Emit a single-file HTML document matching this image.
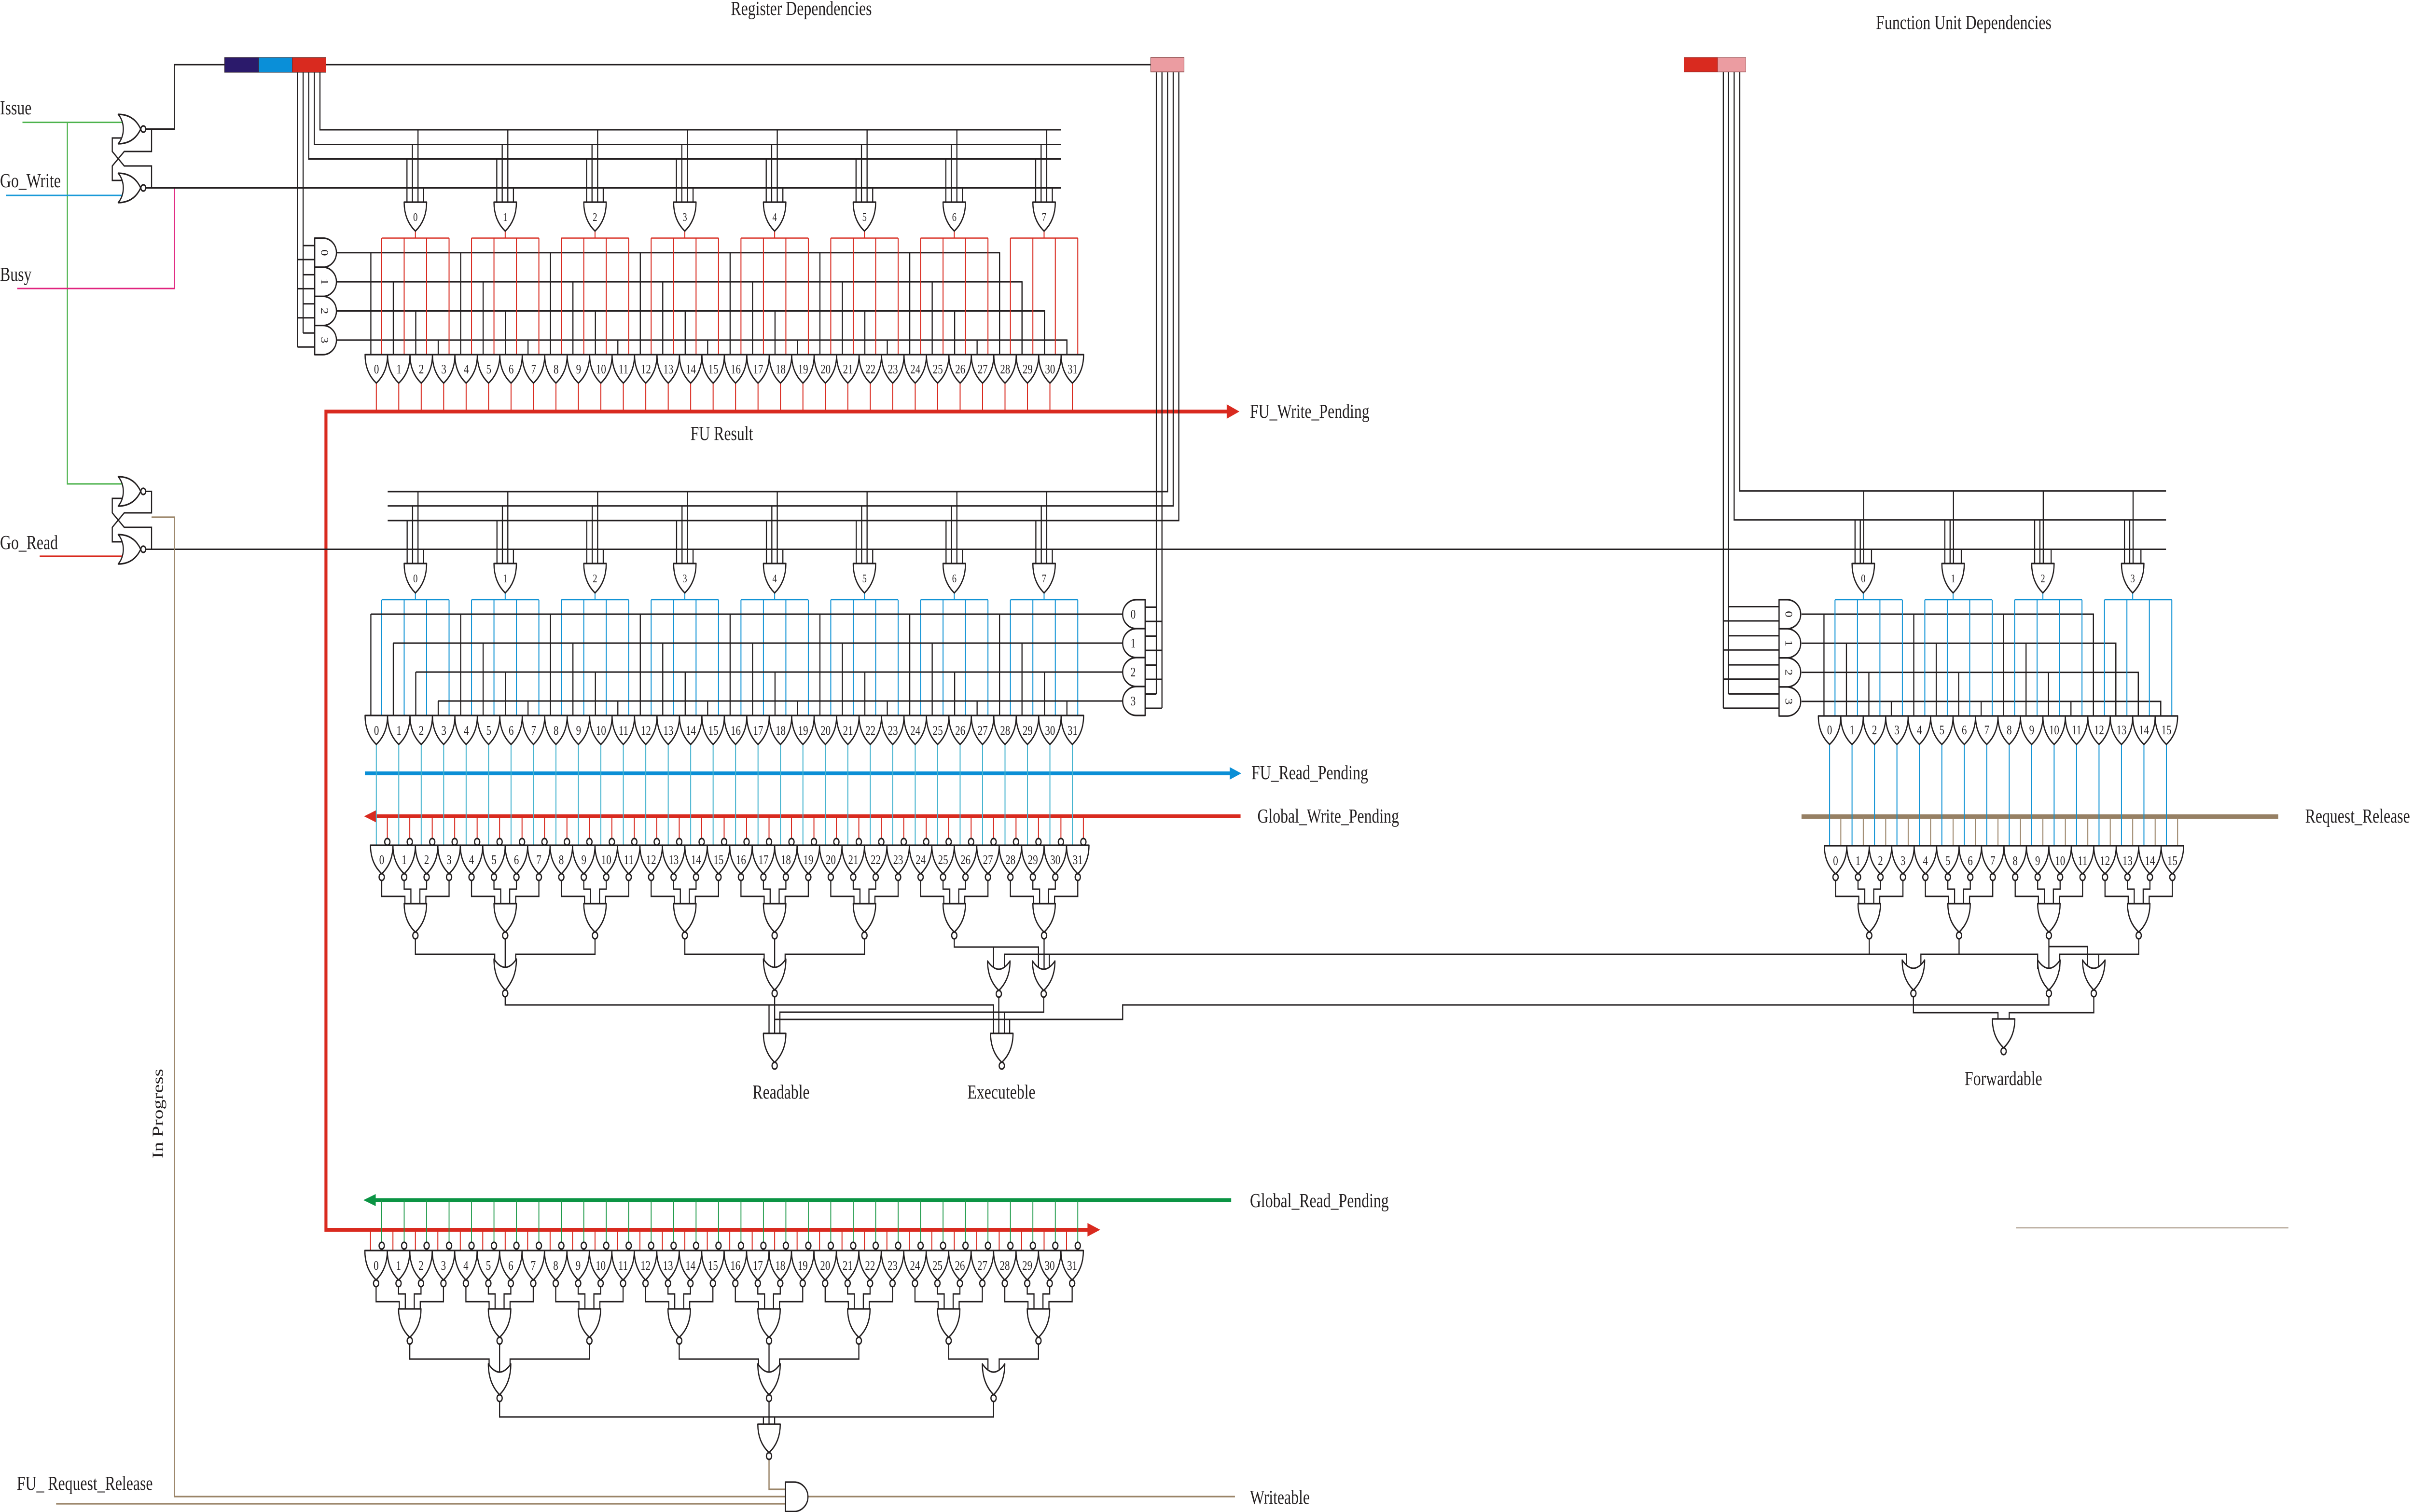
<!DOCTYPE html>
<html><head><meta charset="utf-8">
<style>
html,body{margin:0;padding:0;background:#fff;width:100%;height:100%;overflow:hidden;}
svg{display:block;position:fixed;left:0;top:0;width:100vw;height:100vh}
.k{stroke:#231f20;stroke-width:3;fill:none}
.r{stroke:#d92a1f;stroke-width:2.6;fill:none}
.b{stroke:#1193d5;stroke-width:2.6;fill:none}
.c{stroke:#45b3cf;stroke-width:2.6;fill:none}
.gn{stroke:#1f9a4a;stroke-width:2.4;fill:none}
.gi{stroke:#4db34d;stroke-width:3;fill:none}
.bl{stroke:#1a9ad8;stroke-width:3;fill:none}
.mg{stroke:#e0247f;stroke-width:3;fill:none}
.rd{stroke:#d92a1f;stroke-width:3.2;fill:none}
.br{stroke:#9a8468;stroke-width:3.2;fill:none}
.br2{stroke:#9a8468;stroke-width:2.6;fill:none}
.tl{stroke:#b4a697;stroke-width:2.5;fill:none}
.R{stroke:#d92a1f;stroke-width:8;fill:none}
.B{stroke:#0b8fd6;stroke-width:8;fill:none}
.G{stroke:#0b9444;stroke-width:8;fill:none}
.BR{stroke:#968064;stroke-width:9;fill:none}
.gt{fill:#fff;stroke:#231f20;stroke-width:3.2;stroke-linejoin:round}
.t{font-family:"Liberation Serif","Times New Roman",serif;fill:#231f20}
.L{font-size:41px}
.n{font-size:27px;text-anchor:middle}
.m{font-size:24px;text-anchor:middle}
</style></head><body>
<svg xmlns="http://www.w3.org/2000/svg" viewBox="0 0 6448 3134" preserveAspectRatio="none">
<rect x="0" y="0" width="6448" height="3134" fill="#fff"/>
<g id="geo"></g>
<g>
<rect x="600" y="119" width="91" height="31" fill="#2b1a6b" stroke="#3a2a2a" stroke-width="1"/>
<rect x="691" y="119" width="90" height="31" fill="#0a8fd8" stroke="#3a2a2a" stroke-width="1"/>
<rect x="781" y="119" width="90" height="31" fill="#d92a1f" stroke="#3a2a2a" stroke-width="1"/>
<rect x="3075" y="119" width="89" height="30" fill="#eb9ca1" stroke="#8a4a4a" stroke-width="1.5"/>
<rect x="4500" y="119" width="90" height="30" fill="#d92a1f" stroke="#8a2a2a" stroke-width="1"/>
<rect x="4590" y="119" width="75" height="30" fill="#eb9ca1" stroke="#8a4a4a" stroke-width="1"/>
</g>
<g class="t">
<text class="L" x="1953" y="31">Register Dependencies</text>
<text class="L" x="5013" y="60">Function Unit Dependencies</text>
<text class="L" x="0" y="237">Issue</text>
<text class="L" x="0" y="388">Go_Write</text>
<text class="L" x="0" y="582">Busy</text>
<text class="L" x="0" y="1138">Go_Read</text>
<text class="L" transform="translate(435,2401) rotate(-90)">In Progress</text>
<text class="L" x="45" y="3088">FU_ Request_Release</text>
<text class="L" x="1845" y="912">FU Result</text>
<text class="L" x="3340" y="866">FU_Write_Pending</text>
<text class="L" x="3344" y="1615">FU_Read_Pending</text>
<text class="L" x="3360" y="1705">Global_Write_Pending</text>
<text class="L" x="3340" y="2502">Global_Read_Pending</text>
<text class="L" x="3340" y="3117">Writeable</text>
<text class="L" x="6160" y="1705">Request_Release</text>
<text class="L" x="2011" y="2277">Readable</text>
<text class="L" x="2585" y="2277">Executeble</text>
<text class="L" x="5250" y="2249">Forwardable</text>

<text class="m" y="458"><tspan x="1110">0</tspan><tspan x="1350">1</tspan><tspan x="1590">2</tspan><tspan x="1830">3</tspan><tspan x="2070">4</tspan><tspan x="2310">5</tspan><tspan x="2550">6</tspan><tspan x="2790">7</tspan></text>
<text class="m" y="1207"><tspan x="1110">0</tspan><tspan x="1350">1</tspan><tspan x="1590">2</tspan><tspan x="1830">3</tspan><tspan x="2070">4</tspan><tspan x="2310">5</tspan><tspan x="2550">6</tspan><tspan x="2790">7</tspan></text>
<text class="m" y="1207"><tspan x="4979">0</tspan><tspan x="5219">1</tspan><tspan x="5459">2</tspan><tspan x="5699">3</tspan></text>

<text class="n" y="774"><tspan x="1006">0</tspan><tspan x="1066">1</tspan><tspan x="1126">2</tspan><tspan x="1186">3</tspan><tspan x="1246">4</tspan><tspan x="1306">5</tspan><tspan x="1366">6</tspan><tspan x="1426">7</tspan><tspan x="1486">8</tspan><tspan x="1546">9</tspan><tspan x="1606">10</tspan><tspan x="1666">11</tspan><tspan x="1726">12</tspan><tspan x="1786">13</tspan><tspan x="1846">14</tspan><tspan x="1906">15</tspan><tspan x="1966">16</tspan><tspan x="2026">17</tspan><tspan x="2086">18</tspan><tspan x="2146">19</tspan><tspan x="2206">20</tspan><tspan x="2266">21</tspan><tspan x="2326">22</tspan><tspan x="2386">23</tspan><tspan x="2446">24</tspan><tspan x="2506">25</tspan><tspan x="2566">26</tspan><tspan x="2626">27</tspan><tspan x="2686">28</tspan><tspan x="2746">29</tspan><tspan x="2806">30</tspan><tspan x="2866">31</tspan></text>

<text class="n" y="1523"><tspan x="1006">0</tspan><tspan x="1066">1</tspan><tspan x="1126">2</tspan><tspan x="1186">3</tspan><tspan x="1246">4</tspan><tspan x="1306">5</tspan><tspan x="1366">6</tspan><tspan x="1426">7</tspan><tspan x="1486">8</tspan><tspan x="1546">9</tspan><tspan x="1606">10</tspan><tspan x="1666">11</tspan><tspan x="1726">12</tspan><tspan x="1786">13</tspan><tspan x="1846">14</tspan><tspan x="1906">15</tspan><tspan x="1966">16</tspan><tspan x="2026">17</tspan><tspan x="2086">18</tspan><tspan x="2146">19</tspan><tspan x="2206">20</tspan><tspan x="2266">21</tspan><tspan x="2326">22</tspan><tspan x="2386">23</tspan><tspan x="2446">24</tspan><tspan x="2506">25</tspan><tspan x="2566">26</tspan><tspan x="2626">27</tspan><tspan x="2686">28</tspan><tspan x="2746">29</tspan><tspan x="2806">30</tspan><tspan x="2866">31</tspan></text>

<text class="n" y="1791"><tspan x="1020">0</tspan><tspan x="1080">1</tspan><tspan x="1140">2</tspan><tspan x="1200">3</tspan><tspan x="1260">4</tspan><tspan x="1320">5</tspan><tspan x="1380">6</tspan><tspan x="1440">7</tspan><tspan x="1500">8</tspan><tspan x="1560">9</tspan><tspan x="1620">10</tspan><tspan x="1680">11</tspan><tspan x="1740">12</tspan><tspan x="1800">13</tspan><tspan x="1860">14</tspan><tspan x="1920">15</tspan><tspan x="1980">16</tspan><tspan x="2040">17</tspan><tspan x="2100">18</tspan><tspan x="2160">19</tspan><tspan x="2220">20</tspan><tspan x="2280">21</tspan><tspan x="2340">22</tspan><tspan x="2400">23</tspan><tspan x="2460">24</tspan><tspan x="2520">25</tspan><tspan x="2580">26</tspan><tspan x="2640">27</tspan><tspan x="2700">28</tspan><tspan x="2760">29</tspan><tspan x="2820">30</tspan><tspan x="2880">31</tspan></text>

<text class="n" y="2632"><tspan x="1005">0</tspan><tspan x="1065">1</tspan><tspan x="1125">2</tspan><tspan x="1185">3</tspan><tspan x="1245">4</tspan><tspan x="1305">5</tspan><tspan x="1365">6</tspan><tspan x="1425">7</tspan><tspan x="1485">8</tspan><tspan x="1545">9</tspan><tspan x="1605">10</tspan><tspan x="1665">11</tspan><tspan x="1725">12</tspan><tspan x="1785">13</tspan><tspan x="1845">14</tspan><tspan x="1905">15</tspan><tspan x="1965">16</tspan><tspan x="2025">17</tspan><tspan x="2085">18</tspan><tspan x="2145">19</tspan><tspan x="2205">20</tspan><tspan x="2265">21</tspan><tspan x="2325">22</tspan><tspan x="2385">23</tspan><tspan x="2445">24</tspan><tspan x="2505">25</tspan><tspan x="2565">26</tspan><tspan x="2625">27</tspan><tspan x="2685">28</tspan><tspan x="2745">29</tspan><tspan x="2805">30</tspan><tspan x="2865">31</tspan></text>

<text class="n" y="1522"><tspan x="4889">0</tspan><tspan x="4949">1</tspan><tspan x="5009">2</tspan><tspan x="5069">3</tspan><tspan x="5129">4</tspan><tspan x="5189">5</tspan><tspan x="5249">6</tspan><tspan x="5309">7</tspan><tspan x="5369">8</tspan><tspan x="5429">9</tspan><tspan x="5489">10</tspan><tspan x="5549">11</tspan><tspan x="5609">12</tspan><tspan x="5669">13</tspan><tspan x="5729">14</tspan><tspan x="5789">15</tspan></text>

<text class="n" y="1793"><tspan x="4905">0</tspan><tspan x="4965">1</tspan><tspan x="5025">2</tspan><tspan x="5085">3</tspan><tspan x="5145">4</tspan><tspan x="5205">5</tspan><tspan x="5265">6</tspan><tspan x="5325">7</tspan><tspan x="5385">8</tspan><tspan x="5445">9</tspan><tspan x="5505">10</tspan><tspan x="5565">11</tspan><tspan x="5625">12</tspan><tspan x="5685">13</tspan><tspan x="5745">14</tspan><tspan x="5805">15</tspan></text>

<text class="n" transform="translate(866,523.7) rotate(90)" y="8">0</text>
<text class="n" transform="translate(866,584.1) rotate(90)" y="8">1</text>
<text class="n" transform="translate(866,644.5) rotate(90)" y="8">2</text>
<text class="n" transform="translate(866,704.9) rotate(90)" y="8">3</text>

<text class="n" transform="translate(4779,1273) rotate(90)" y="8">0</text>
<text class="n" transform="translate(4779,1333.3) rotate(90)" y="8">1</text>
<text class="n" transform="translate(4779,1393.6) rotate(90)" y="8">2</text>
<text class="n" transform="translate(4779,1453.9) rotate(90)" y="8">3</text>

<text class="n" x="3028" y="1282">0</text>
<text class="n" x="3028" y="1342">1</text>
<text class="n" x="3028" y="1402">2</text>
<text class="n" x="3028" y="1462">3</text>
</g>
</svg>
<script>
(function(){
var z='',o='',q='';
function f(v){return Math.round(v*10)/10;}
function pts(a){var s='';for(var i=0;i<a.length;i+=2)s+=f(a[i])+','+f(a[i+1])+' ';return s;}
function pl(c,a){o+='<polyline class="'+c+'" points="'+pts(a)+'"/>';}
function PL(c,a){z+='<polyline class="'+c+'" points="'+pts(a)+'"/>';}
function tri(a,col){z+='<polygon fill="'+col+'" points="'+pts(a)+'"/>';}
function gd(cx,y0,h,w){w=w||60;var hw=w/2;q+='<path class="gt" d="M'+f(cx-hw)+','+f(y0)+'H'+f(cx+hw)+'C'+f(cx+hw)+','+f(y0+h*0.55)+' '+f(cx+hw*0.4)+','+f(y0+h*0.85)+' '+f(cx)+','+f(y0+h)+'C'+f(cx-hw*0.4)+','+f(y0+h*0.85)+' '+f(cx-hw)+','+f(y0+h*0.55)+' '+f(cx-hw)+','+f(y0)+'Z"/>';}
function od(cx,yt,tip){var hw=30,h=tip-yt;q+='<path class="gt" d="M'+f(cx-hw)+','+f(yt)+'Q'+f(cx)+','+f(yt+34)+' '+f(cx+hw)+','+f(yt)+'C'+f(cx+hw)+','+f(yt+h*0.55)+' '+f(cx+hw*0.4)+','+f(yt+h*0.85)+' '+f(cx)+','+f(tip)+'C'+f(cx-hw*0.4)+','+f(yt+h*0.85)+' '+f(cx-hw)+','+f(yt+h*0.55)+' '+f(cx-hw)+','+f(yt)+'Z"/>';}
function bub(cx,cy,r){q+='<circle class="gt" cx="'+f(cx)+'" cy="'+f(cy)+'" r="'+(r||7)+'"/>';}
function dR(x0,y0,h,w){var rx=w*0.62;q+='<path class="gt" d="M'+f(x0)+','+f(y0)+'H'+f(x0+w-rx)+'A'+f(rx)+','+f(h/2)+' 0 0 1 '+f(x0+w-rx)+','+f(y0+h)+'H'+f(x0)+'Z"/>';}
function dL(x0,y0,h,w){var rx=w*0.62;q+='<path class="gt" d="M'+f(x0)+','+f(y0)+'H'+f(x0-w+rx)+'A'+f(rx)+','+f(h/2)+' 0 0 0 '+f(x0-w+rx)+','+f(y0+h)+'H'+f(x0)+'Z"/>';}
function norR(x0,yc,h){var y0=yc-h/2,y1=yc+h/2,tx=x0+60;q+='<path class="gt" d="M'+x0+','+f(y0)+'C'+(x0+36)+','+f(y0)+' '+(tx-8)+','+f(yc-h*0.22)+' '+tx+','+f(yc)+'C'+(tx-8)+','+f(yc+h*0.22)+' '+(x0+36)+','+f(y1)+' '+x0+','+f(y1)+'C'+(x0+18)+','+f(yc+h*0.22)+' '+(x0+18)+','+f(yc-h*0.22)+' '+x0+','+f(y0)+'Z"/>';bub(tx+7,yc,6.5);}
function grp(cx,yb,yo,yi,yt){pl('k',[cx-90,yb,cx-90,yo,cx-28,yo,cx-28,yt]);pl('k',[cx-30,yb,cx-30,yi,cx-12,yi,cx-12,yt]);pl('k',[cx+30,yb,cx+30,yi,cx+12,yi,cx+12,yt]);pl('k',[cx+90,yb,cx+90,yo,cx+28,yo,cx+28,yt]);}
var n,k,g,j,cx,x,y0;

/* ---------- left latches ---------- */
pl('gi',[60,253.6,330,253.6]);
pl('gi',[180,253.6,180,1003,330,1003]);
pl('bl',[16,405,330,405]);
pl('mg',[466,389.5,466,598,46,598]);
pl('k',[390,267.5,405,267.5,466,267.5,466,134,600,134]);
pl('k',[405,267.5,405,314,332,314,300,344,300,374,330,374]);
pl('k',[390,389.5,2835,389.5]);
pl('k',[405,389.5,405,344,332,344,300,314,300,286,330,286]);
norR(316,267.5,61);norR(316,389.5,61);
pl('rd',[106,1153,330,1153]);
pl('k',[390,1018.5,405,1018.5,405,1063,332,1063,300,1093,300,1123,330,1123]);
pl('k',[390,1138.5,5788,1138.5]);
pl('k',[405,1138.5,405,1093,332,1093,300,1063,300,1033,330,1033]);
norR(316,1018.5,61);norR(316,1138.5,61);
pl('br',[405,1072,466,1072,466,3102,2100,3102]);
pl('br',[150,3117,2100,3117]);

/* ---------- top register section ---------- */
pl('k',[855,150,855,269,2835,269]);
pl('k',[840,150,840,299.5,2835,299.5]);
pl('k',[825,150,825,329.5,2835,329.5]);
pl('k',[810,150,810,690]);
pl('k',[795,150,795,719]);
pl('k',[871,134,3075,134]);
for(g=0;g<4;g++){y0=493.5+60.4*g;pl('k',[810,y0+15.5,842,y0+15.5]);pl('k',[795,y0+44.5,842,y0+44.5]);x=991+60*(28+g);pl('k',[899,y0+30.2,x,y0+30.2,x,736]);dR(841,y0,60.4,58);}
for(n=0;n<32;n++){x=991+60*n;pl('k',[x,523.7+60.4*(n%4),x,736]);}
for(k=0;k<8;k++){cx=1110+240*k;
 pl('k',[cx-22.5,329.5,cx-22.5,420]);pl('k',[cx-8,299.5,cx-8,420]);pl('k',[cx+7,269,cx+7,420]);pl('k',[cx+22,389.5,cx+22,420]);
 pl('r',[cx,479,cx,493.5]);pl('r',[1020+240*k,493.5,1200+240*k,493.5]);
 for(j=0;j<4;j++){x=1020+240*k+60*j;pl('r',[x,493.5,x,736]);}
 gd(cx,419,60);}
for(n=0;n<32;n++){cx=1005.6+60*n;gd(cx,735,59);pl('r',[cx,794,cx,853]);}
PL('R',[3280,853,871,853,871,2549,2910,2549]);
tri([3312,853,3278,838,3278,868],'#d92a1f');
tri([2940,2549,2906,2535,2906,2563],'#d92a1f');

/* ---------- middle register section ---------- */
pl('k',[3120,150,3120,1019,1036,1019]);
pl('k',[3135,150,3135,1048.6,1036,1048.6]);
pl('k',[3150,150,3150,1079,1036,1079]);
pl('k',[3090,150,3090,1439]);
pl('k',[3105,150,3105,1468]);
for(k=0;k<8;k++){cx=1110+240*k;
 pl('k',[cx-22,1079,cx-22,1169]);pl('k',[cx-7.5,1048.6,cx-7.5,1169]);pl('k',[cx+7,1019,cx+7,1169]);pl('k',[cx+22,1138.5,cx+22,1169]);
 pl('b',[cx,1229,cx,1243]);pl('b',[1020+240*k,1243,1200+240*k,1243]);
 for(j=0;j<4;j++){x=1020+240*k+60*j;pl('b',[x,1243,x,1484]);}
 gd(cx,1168,61);}
for(g=0;g<4;g++){y0=1243+60*g;pl('k',[3059,y0+15.5,3090,y0+15.5]);pl('k',[3059,y0+45,3105,y0+45]);pl('k',[3000,y0+30,991+60*g,y0+30]);dL(3060,y0,60,60);}
PL('B',[975,1603,3288,1603]);
tri([3317,1603,3286,1590,3286,1616],'#0b8fd6');
PL('R',[1004,1692,3315,1692]);
tri([973,1692,1006,1679,1006,1705],'#d92a1f');
for(n=0;n<32;n++){x=991+60*n;pl('k',[x,1273+60*(n%4),x,1484]);cx=1005.6+60*n;gd(cx,1483,60);pl('c',[cx,1543,cx,1753]);
 x=1035+60*n;pl('r',[x,1692,x,1739]);bub(x,1745,7);
 cx=1020+60*n;gd(cx,1752,59);bub(cx,1818,7);}

/* ---------- Readable / Executeble ---------- */
for(g=0;g<8;g++){cx=1110+240*g;grp(cx,1825,1858,1843,1874);gd(cx,1873,59);bub(cx,1939,7);}
pl('k',[1110,1946,1110,1978,1322,1978,1322,2006]);pl('k',[1350,1946,1350,2006]);pl('k',[1590,1946,1590,1978,1378,1978,1378,2006]);
pl('k',[1830,1946,1830,1978,2042,1978,2042,2006]);pl('k',[2070,1946,2070,2006]);pl('k',[2310,1946,2310,1978,2098,1978,2098,2006]);
pl('k',[2550,1946,2550,1963,2775,1963,2775,2010]);pl('k',[2655,1963,2655,2010]);
pl('k',[2790,1946,2790,2010]);
pl('k',[2684,2010,2684,1978,5095,1978,5095,2008]);pl('k',[2804,1978,2804,2010]);
od(1350,1988,2052);bub(1350,2059);od(2070,1988,2052);bub(2070,2059);
od(2669,1992,2053);bub(2669,2060);od(2789,1992,2053);bub(2789,2060);
pl('k',[1350,2066,1350,2083,2655,2083,2655,2143]);pl('k',[2055,2083,2055,2143]);
pl('k',[2084,2143,2084,2098,2789,2098,2789,2067]);pl('k',[2684,2098,2684,2143]);
pl('k',[2669,2067,2669,2143]);
pl('k',[2070,2066,2070,2143]);
pl('k',[2070,2113,3000,2113,3000,2083,5475,2083,5475,2066]);pl('k',[2698,2113,2698,2143]);
gd(2070,2142,60);bub(2070,2209,7);gd(2677,2142,60);bub(2677,2209,7);

/* ---------- Function unit section ---------- */
pl('k',[4649,149,4649,1017.6,5788,1017.6]);
pl('k',[4634,149,4634,1077.6,5788,1077.6]);
pl('k',[4619,149,4619,1438.5]);
pl('k',[4605,149,4605,1468]);
for(g=0;g<4;g++){y0=1243+60.3*g;pl('k',[4619,y0+14.5,4755,y0+14.5]);pl('k',[4605,y0+44,4755,y0+44]);x=4874+60*(12+g);pl('k',[4814,y0+30,x,y0+30,x,1485]);dR(4754,y0,60.3,60);}
for(n=0;n<16;n++){x=4874+60*n;pl('k',[x,1273+60.3*(n%4),x,1485]);}
for(k=0;k<4;k++){cx=4979+240*k;
 pl('k',[cx-22,1077.6,cx-22,1169]);pl('k',[cx-8,1077.6,cx-8,1169]);pl('k',[cx+1,1017.6,cx+1,1169]);pl('k',[cx+22,1138.5,cx+22,1169]);
 pl('b',[cx,1229,cx,1243]);pl('b',[4903.5+240*k,1243,5083.5+240*k,1243]);
 for(j=0;j<4;j++){x=4903.5+240*k+60*j;pl('b',[x,1243,x,1485]);}
 gd(cx,1168,61);}
PL('BR',[4814,1692.5,6088,1692.5]);
for(n=0;n<16;n++){cx=4889+60*n;gd(cx,1484,59);pl('b',[cx,1543,cx,1754]);x=4919+60*n;pl('br2',[x,1692.5,x,1754]);cx=4905+60*n;gd(cx,1753,58);bub(cx,1818,7);}
for(k=0;k<4;k++){cx=4995+240*k;grp(cx,1825,1858,1843,1874);gd(cx,1873,59);bub(cx,1939,7);}
pl('k',[4995,1946,4995,1978]);
pl('k',[5235,1946,5235,1978]);pl('k',[5133,2008,5133,1978,5445,1978,5445,2008]);
pl('k',[5475,1946,5475,2008]);pl('k',[5475,1962,5578,1962,5578,2008]);
pl('k',[5715,1946,5715,1978,5504,1978,5504,2008]);pl('k',[5608,1978,5608,2008]);
od(5113,1990,2052);bub(5113,2059);od(5475,1990,2052);bub(5475,2059);od(5595,1990,2052);bub(5595,2059);
pl('k',[5113,2066,5113,2099,5339,2099,5339,2113]);
pl('k',[5595,2066,5595,2099,5369,2099,5369,2113]);
gd(5354,2112,60);bub(5354,2179,7);
pl('tl',[5387,2545,6115,2545]);

/* ---------- bottom (Global_Read_Pending) section ---------- */
PL('G',[1003,2487.5,3290,2487.5]);
tri([971,2487.5,1004,2475,1004,2500],'#0b9444');
for(n=0;n<32;n++){x=1020+60*n;pl('gn',[x,2487.5,x,2575]);bub(x,2582,7);x=990+60*n;pl('r',[x,2549,x,2593]);cx=1005+60*n;gd(cx,2592,61);bub(cx,2660,7);}
for(g=0;g<8;g++){cx=1095+240*g;grp(cx,2667,2698,2682,2714);gd(cx,2713,59);bub(cx,2779,7);}
pl('k',[1095,2786,1095,2817,1307,2817,1307,2845]);pl('k',[1335,2786,1335,2845]);pl('k',[1575,2786,1575,2817,1363,2817,1363,2845]);
pl('k',[1815,2786,1815,2817,2027,2817,2027,2845]);pl('k',[2055,2786,2055,2845]);pl('k',[2295,2786,2295,2817,2083,2817,2083,2845]);
pl('k',[2535,2786,2535,2817,2640,2817,2640,2845]);pl('k',[2775,2786,2775,2817,2670,2817,2670,2845]);
od(1335,2827,2891);bub(1335,2898,7);od(2055,2827,2891);bub(2055,2898,7);od(2655,2827,2891);bub(2655,2898,7);
pl('k',[1335,2905,1335,2937,2655,2937,2655,2905]);pl('k',[2040,2937,2040,2953]);pl('k',[2055,2905,2055,2953]);pl('k',[2070,2937,2070,2953]);
gd(2055,2952,59);bub(2055,3018,7);
pl('br',[2055,3025,2055,3087,2100,3087]);
dR(2099,3072,61,60);
pl('br',[2159,3102,3300,3102]);

document.getElementById('geo').innerHTML=z+o+q;
})();
</script>
</body></html>
